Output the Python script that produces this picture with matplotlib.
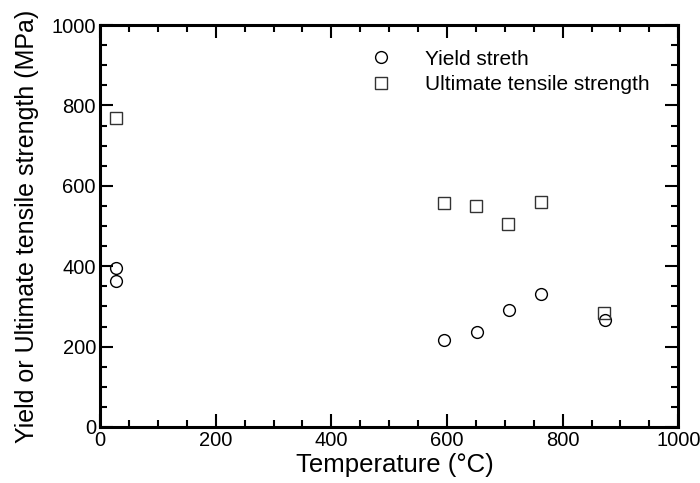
import matplotlib
matplotlib.use('Agg')
import matplotlib.pyplot as plt
from matplotlib.ticker import MultipleLocator

plt.rcParams['font.family'] = ['Liberation Sans', 'DejaVu Sans']

# data
yield_temp = [28, 28, 594, 652, 708, 763, 874]
yield_mpa = [395, 364, 216, 236, 290, 332, 266]
uts_temp = [28, 594, 650, 705, 763, 871]
uts_mpa = [769, 558, 550, 504, 559, 284]

fig = plt.figure(figsize=(7.0, 4.83), dpi=100)
ax = fig.add_axes([0.143, 0.116, 0.826, 0.832])

ax.plot(yield_temp, yield_mpa, 'o', ls='none', ms=8.5, mfc='none',
        mec='black', mew=1.0, label='Yield streth')
ax.plot(uts_temp, uts_mpa, 's', ls='none', ms=8.5, mfc='none',
        mec='#333333', mew=1.0, label='Ultimate tensile strength')

ax.set_xlim(0, 1000)
ax.set_ylim(0, 1000)
ax.xaxis.set_major_locator(MultipleLocator(200))
ax.xaxis.set_minor_locator(MultipleLocator(50))
ax.yaxis.set_major_locator(MultipleLocator(200))
ax.yaxis.set_minor_locator(MultipleLocator(50))

for s in ax.spines.values():
    s.set_linewidth(2.2)
ax.tick_params(which='both', direction='in', top=True, right=True,
               labelsize=14.5, width=1.5)
ax.tick_params(which='major', length=9.5, pad=3)
ax.tick_params(which='minor', length=5)

ax.set_xlabel('Temperature (°C)', fontsize=18.5, labelpad=1)
ax.set_ylabel('Yield or Ultimate tensile strength (MPa)', fontsize=18, labelpad=9)
ax.xaxis.set_label_coords(0.51, -0.065)

ax.legend(loc='upper left', bbox_to_anchor=(0.45, 0.965), frameon=False,
          fontsize=15, handlelength=1.0, handletextpad=1.6,
          labelspacing=0.3, borderpad=0)

fig.savefig('out.png', dpi=100)
